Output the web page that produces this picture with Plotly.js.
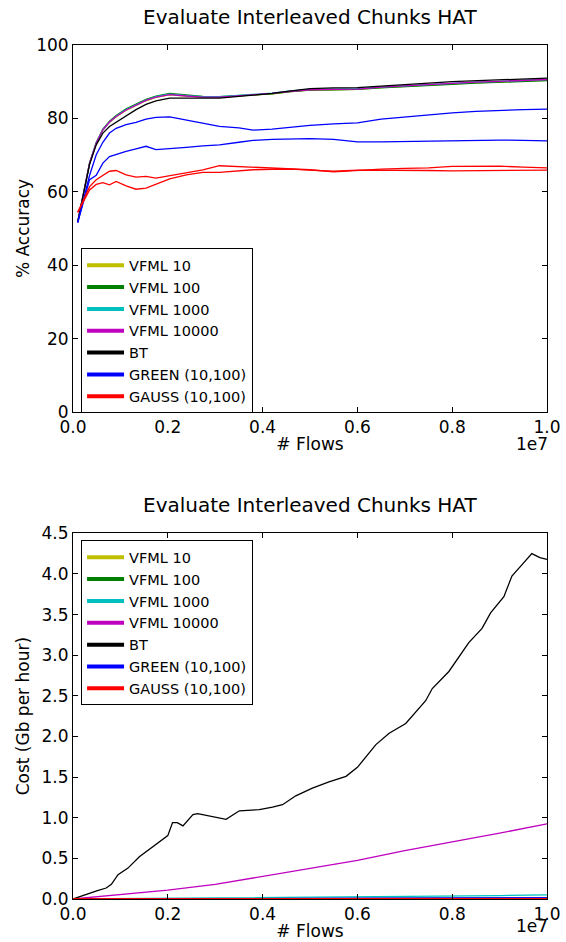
<!DOCTYPE html>
<html>
<head>
<meta charset="utf-8">
<script src="https://cdn.plot.ly/plotly-3.0.1.min.js"></script>
<style>
  html, body { margin: 0; padding: 0; background: #fff; }
  #chart { width: 566px; height: 942px; }
</style>
</head>
<body>
<div id="chart"></div>
<script>
// ---- Accuracy panel: flows (in units of 1e7) ----
const accFlows = [0.01, 0.035, 0.049, 0.063, 0.077, 0.091, 0.112, 0.133, 0.154, 0.175,
  0.204, 0.239, 0.274, 0.309, 0.35, 0.38, 0.42, 0.46, 0.5, 0.55,
  0.6, 0.65, 0.7, 0.75, 0.8, 0.85, 0.9, 0.95, 1.0];

const accVfml10 = [51.8, 67.7, 73.2, 76.8, 78.9, 80.4, 82.2, 83.6, 84.8, 85.7,
  86.4, 86.1, 85.8, 85.8, 86.1, 86.3, 86.7, 87.3, 87.7, 87.8,
  87.9, 88.4, 88.8, 89.1, 89.4, 89.7, 89.9, 90.2, 90.4];
const accVfml100 = [51.8, 67.9, 73.4, 77.1, 79.2, 80.8, 82.6, 84.0, 85.2, 86.1,
  86.8, 86.4, 86.0, 85.9, 86.2, 86.4, 86.7, 87.3, 87.7, 87.8,
  87.9, 88.3, 88.7, 89.0, 89.3, 89.6, 89.8, 90.1, 90.3];
const accVfml1000 = [51.8, 67.8, 73.3, 76.9, 79.0, 80.6, 82.4, 83.8, 85.0, 85.9,
  86.6, 86.2, 85.9, 85.9, 86.2, 86.5, 86.9, 87.5, 87.9, 88.0,
  88.1, 88.5, 88.9, 89.3, 89.6, 89.9, 90.1, 90.4, 90.6];
const accVfml10000 = [51.8, 67.8, 73.3, 76.9, 79.0, 80.5, 82.3, 83.7, 84.9, 85.8,
  86.5, 86.1, 85.8, 85.8, 86.2, 86.4, 86.8, 87.4, 87.8, 87.9,
  88.0, 88.5, 88.9, 89.3, 89.6, 89.9, 90.1, 90.4, 90.6];
const accBt = [51.8, 67.5, 72.8, 76.0, 77.8, 79.0, 80.7, 82.4, 83.8, 84.8,
  85.5, 85.5, 85.4, 85.5, 86.0, 86.3, 86.8, 87.5, 88.1, 88.3,
  88.4, 88.8, 89.3, 89.6, 90.0, 90.2, 90.5, 90.8, 91.0];
const accGreenA = [51.6, 64.5, 70.1, 73.5, 76.0, 77.3, 78.3, 78.9, 79.8, 80.3,
  80.4, 79.5, 78.5, 77.8, 77.4, 76.8, 77.1, 77.7, 78.1, 78.5,
  78.8, 79.8, 80.4, 81.0, 81.5, 81.9, 82.2, 82.4, 82.5];
const accGreenB = [51.6, 63.3, 64.5, 67.8, 69.6, 70.2, 71.0, 71.7, 72.4, 71.5,
  71.7, 72.1, 72.5, 72.8, 73.5, 74.0, 74.3, 74.5, 74.5, 74.3,
  73.6, 73.6, 73.7, 73.8, 73.9, 74.2, 74.1, 74.0, 73.9];
const accGaussA = [54.4, 61.4, 63.3, 64.5, 65.6, 65.8, 64.6, 64.0, 64.2, 63.7,
  64.4, 65.3, 66.0, 67.1, 66.9, 66.6, 66.4, 66.4, 66.0, 65.4,
  65.9, 66.2, 66.4, 66.5, 66.9, 66.9, 67.0, 66.7, 66.5];
const accGaussB = [54.4, 60.5, 62.0, 62.5, 61.9, 62.8, 61.6, 60.7, 61.0, 62.0,
  63.5, 64.6, 65.3, 65.3, 65.7, 66.0, 66.1, 66.2, 65.9, 65.6,
  65.9, 65.9, 66.0, 65.8, 65.7, 65.8, 65.9, 65.8, 65.9];

// ---- Cost panel ----
const costBtFlows = [0, 0.01, 0.032, 0.05, 0.07, 0.081, 0.095, 0.116, 0.14, 0.16,
  0.183, 0.2, 0.21, 0.22, 0.232, 0.253, 0.263, 0.28, 0.295, 0.323,
  0.351, 0.393, 0.421, 0.442, 0.47, 0.505, 0.54, 0.576, 0.6, 0.618,
  0.639, 0.667, 0.702, 0.744, 0.758, 0.793, 0.818, 0.835, 0.863, 0.881,
  0.909, 0.926, 0.945, 0.968, 0.985, 1.0];
const costBt = [0.0, 0.02, 0.07, 0.10, 0.135, 0.18, 0.30, 0.38, 0.52, 0.61,
  0.71, 0.78, 0.94, 0.94, 0.90, 1.04, 1.05, 1.03, 1.02, 0.98,
  1.085, 1.10, 1.13, 1.16, 1.27, 1.365, 1.44, 1.51, 1.62, 1.745,
  1.90, 2.04, 2.16, 2.44, 2.59, 2.80, 3.02, 3.155, 3.33, 3.52,
  3.72, 3.975, 4.10, 4.25, 4.20, 4.18];

const costFlows = [0, 0.1, 0.2, 0.3, 0.4, 0.5, 0.6, 0.7, 0.8, 0.9, 1.0];
const costVfml10 = [0, 0.001, 0.001, 0.002, 0.002, 0.003, 0.003, 0.004, 0.004, 0.005, 0.005];
const costVfml100 = [0, 0.001, 0.002, 0.003, 0.004, 0.005, 0.006, 0.007, 0.008, 0.009, 0.010];
const costVfml1000 = [0, 0.004, 0.008, 0.012, 0.017, 0.021, 0.026, 0.031, 0.036, 0.042, 0.050];
const costVfml10000 = [0, 0.058, 0.11, 0.18, 0.28, 0.375, 0.475, 0.595, 0.70, 0.81, 0.925];
const costGreenA = [0, 0.002, 0.003, 0.005, 0.006, 0.008, 0.009, 0.011, 0.012, 0.014, 0.015];
const costGreenB = [0, 0.001, 0.002, 0.003, 0.004, 0.005, 0.006, 0.007, 0.008, 0.009, 0.010];
const costGaussA = [0, 0.001, 0.001, 0.002, 0.002, 0.003, 0.003, 0.004, 0.004, 0.005, 0.005];
const costGaussB = [0, 0.001, 0.001, 0.001, 0.002, 0.002, 0.002, 0.003, 0.003, 0.003, 0.004];

const seriesNames = ['VFML 10', 'VFML 100', 'VFML 1000', 'VFML 10000', 'BT', 'GREEN (10,100)', 'GAUSS (10,100)'];
const seriesColors = ['#bfbf00', '#008000', '#00bfbf', '#bf00bf', '#000000', '#0000ff', '#ff0000'];

const FONT = 'DejaVu Sans, Liberation Sans, sans-serif';

function line(x, y, color, xa, ya) {
  return { type: 'scatter', mode: 'lines', x: x, y: y, xaxis: xa, yaxis: ya,
    line: { color: color, width: 1.3 }, showlegend: false, hoverinfo: 'skip' };
}

// legend-only entries drawn with thick swatches
function legendEntries(xa, ya, legendId) {
  return seriesNames.map((name, i) => ({
    type: 'scatter', mode: 'lines', x: [null], y: [null], xaxis: xa, yaxis: ya,
    name: name, legend: legendId,
    line: { color: seriesColors[i], width: 4 }, showlegend: true
  }));
}

const accTraces = [
  line(accFlows, accVfml10, seriesColors[0], 'x', 'y'),
  line(accFlows, accVfml100, seriesColors[1], 'x', 'y'),
  line(accFlows, accVfml1000, seriesColors[2], 'x', 'y'),
  line(accFlows, accVfml10000, seriesColors[3], 'x', 'y'),
  line(accFlows, accBt, seriesColors[4], 'x', 'y'),
  line(accFlows, accGreenA, seriesColors[5], 'x', 'y'),
  line(accFlows, accGreenB, seriesColors[5], 'x', 'y'),
  line(accFlows, accGaussA, seriesColors[6], 'x', 'y'),
  line(accFlows, accGaussB, seriesColors[6], 'x', 'y')
];

const costTraces = [
  line(costFlows, costVfml10, seriesColors[0], 'x2', 'y2'),
  line(costFlows, costVfml100, seriesColors[1], 'x2', 'y2'),
  line(costFlows, costVfml1000, seriesColors[2], 'x2', 'y2'),
  line(costFlows, costVfml10000, seriesColors[3], 'x2', 'y2'),
  line(costBtFlows, costBt, seriesColors[4], 'x2', 'y2'),
  line(costFlows, costGreenA, seriesColors[5], 'x2', 'y2'),
  line(costFlows, costGreenB, seriesColors[5], 'x2', 'y2'),
  line(costFlows, costGaussA, seriesColors[6], 'x2', 'y2'),
  line(costFlows, costGaussB, seriesColors[6], 'x2', 'y2')
];

const data = accTraces.concat(costTraces,
  legendEntries('x', 'y', 'legend'), legendEntries('x2', 'y2', 'legend2'));

const axisBase = {
  showline: true, linecolor: '#000', linewidth: 1, mirror: 'ticks',
  ticks: 'inside', ticklen: 5, tickwidth: 1, tickcolor: '#000',
  showgrid: false, zeroline: false, fixedrange: true,
  tickfont: { family: FONT, size: 17, color: '#000' }
};

const legendBase = {
  x: 0.017, xanchor: 'left', yanchor: 'top',
  bgcolor: '#fff', bordercolor: '#000', borderwidth: 1,
  font: { family: FONT, size: 14.5, color: '#000' },
  itemwidth: 37, traceorder: 'normal'
};

const layout = {
  width: 566, height: 942,
  margin: { l: 73, r: 19, t: 45, b: 43 },
  paper_bgcolor: '#fff', plot_bgcolor: '#fff',
  font: { family: FONT, color: '#000' },
  xaxis: Object.assign({}, axisBase, {
    domain: [0, 1], anchor: 'y', range: [0, 1], dtick: 0.2, tickformat: '.1f',
    title: { text: '# Flows', font: { family: FONT, size: 17 }, standoff: 1 }
  }),
  yaxis: Object.assign({}, axisBase, {
    domain: [0.5703, 1], anchor: 'x', range: [0, 100], dtick: 20,
    title: { text: '% Accuracy', font: { family: FONT, size: 17 } }
  }),
  xaxis2: Object.assign({}, axisBase, {
    domain: [0, 1], anchor: 'y2', range: [0, 1], dtick: 0.2, tickformat: '.1f',
    title: { text: '# Flows', font: { family: FONT, size: 17 }, standoff: 1 }
  }),
  yaxis2: Object.assign({}, axisBase, {
    domain: [0, 0.4282], anchor: 'x2', range: [0, 4.5], dtick: 0.5, tickformat: '.1f',
    title: { text: 'Cost (Gb per hour)', font: { family: FONT, size: 17 } }
  }),
  legend: Object.assign({}, legendBase, { y: 0.762 }),
  legend2: Object.assign({}, legendBase, { y: 0.420 }),
  annotations: [
    { text: 'Evaluate Interleaved Chunks HAT', xref: 'paper', yref: 'paper',
      x: 0.5, y: 1.0328, xanchor: 'center', yanchor: 'middle', showarrow: false,
      font: { family: FONT, size: 20, color: '#000' } },
    { text: 'Evaluate Interleaved Chunks HAT', xref: 'paper', yref: 'paper',
      x: 0.5, y: 0.4614, xanchor: 'center', yanchor: 'middle', showarrow: false,
      font: { family: FONT, size: 20, color: '#000' } },
    { text: '1e7', xref: 'paper', yref: 'paper', x: 1.007, y: 0.533,
      xanchor: 'right', yanchor: 'middle', showarrow: false,
      font: { family: FONT, size: 17, color: '#000' } },
    { text: '1e7', xref: 'paper', yref: 'paper', x: 1.007, y: -0.0316,
      xanchor: 'right', yanchor: 'middle', showarrow: false,
      font: { family: FONT, size: 17, color: '#000' } }
  ]
};

Plotly.newPlot('chart', data, layout, { displayModeBar: false, staticPlot: true });
</script>
</body>
</html>
